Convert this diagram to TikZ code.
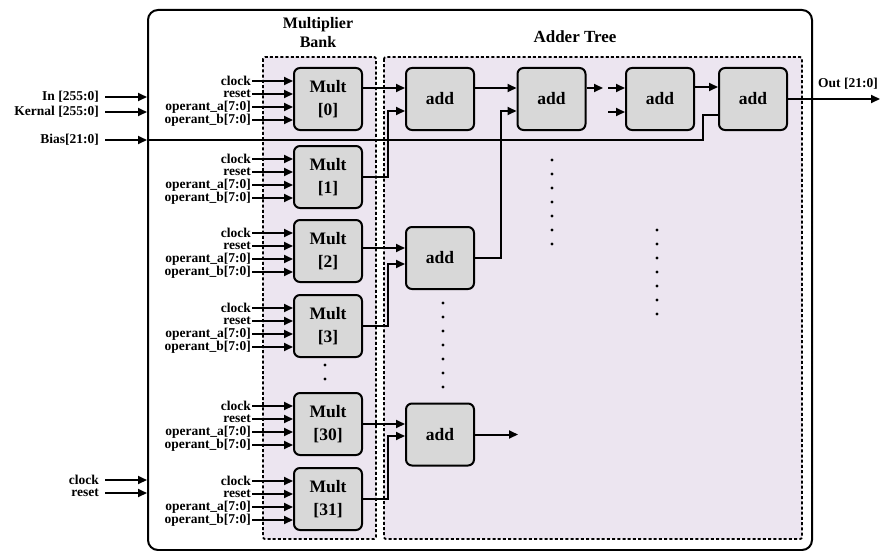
\documentclass[tikz,border=0pt]{standalone}
\usepackage{fontspec}
\setmainfont{Liberation Serif}
\usetikzlibrary{arrows.meta}

\definecolor{bankfill}{RGB}{236,229,240}
\definecolor{unitfill}{RGB}{216,216,216}

\tikzset{
  unit/.style={draw,line width=2pt,rounded corners=6pt,fill=unitfill,minimum width=68pt,minimum height=62pt,inner sep=0pt,align=center,font=\fontsize{17.5}{23}\selectfont\bfseries},
  sig/.style={line width=2pt,-{Triangle[length=9pt,width=8pt]}},
  wire/.style={line width=2pt},
  pin/.style={anchor=east,inner sep=1pt,font=\fontsize{13.5}{14}\selectfont\bfseries},
  region/.style={draw,line width=1.8pt,dash pattern=on 3pt off 2.2pt,fill=bankfill,rounded corners=2pt},
}

\begin{document}
\begin{tikzpicture}[x=1pt,y=1pt,yscale=-1]
\useasboundingbox (0,0) rectangle (883,551);

% dashed regions: multiplier bank and adder tree
\draw[region] (263,57) rectangle (376,539);
\draw[region] (384,57) rectangle (802,539);

% top module outline
\node[draw,line width=2pt,rounded corners=10pt,minimum width=664pt,minimum height=540pt,inner sep=0pt] (chip) at (480,280) {};

% titles
\node[font=\fontsize{16}{19}\selectfont\bfseries,align=center] (bankTitle) at (318,33) {Multiplier\\Bank};
\node[font=\fontsize{17}{20}\selectfont\bfseries] (treeTitle) at (575,37) {Adder Tree};

% multipliers with their four inputs
\foreach \n/\y in {0/99,1/177,2/251,3/326,30/424,31/499}{
  \node[unit] (mult\n) at (328,\y) {Mult\\{[\n]}};
  \foreach \lbl/\dy [count=\i] in {clock/-18,reset/-5,operant\_a[7:0]/8,operant\_b[7:0]/21}{
    \node[pin] (pin\n-\i) at (252,{\y+\dy}) {\lbl};
    \draw[sig] (pin\n-\i.east) -- (pin\n-\i.east -| mult\n.west);
  }
}

% adders
\node[unit] (addA0) at (440,99) {add};
\node[unit] (addA1) at (440,258) {add};
\node[unit] (addA15) at (440,434.5) {add};
\node[unit] (addB0) at (551.5,99) {add};
\node[unit] (addC0) at (660,99) {add};
\node[unit] (addD0) at (753,99) {add};

% first stage
\draw[sig] (mult0.east |- 0,88) -- (addA0.west |- 0,88);
\draw[sig] (mult1.east) -| (388,111) -- (addA0.west |- 0,111);
\draw[sig] (mult2.east |- 0,248) -- (addA1.west |- 0,248);
\draw[sig] (mult3.east) -| (388,264) -- (addA1.west |- 0,264);
\draw[sig] (mult30.east) -- (addA15.west |- mult30.east);
\draw[sig] (mult31.east) -| (388,436) -- (addA15.west |- 0,436);
\coordinate (nextA15) at (518,434.5);
\draw[sig] (addA15.east) -- (nextA15);

% later stages
\draw[sig] (addA0.east |- 0,88) -- (addB0.west |- 0,88);
\draw[sig] (addA1.east) -| (501,111) -- (addB0.west |- 0,111);
\coordinate (gapL) at (603,88);
\coordinate (gapR) at (608,88);
\draw[sig] (addB0.east |- gapL) -- (gapL);
\draw[sig] (gapR) -- (addC0.west |- gapR);
\draw[sig] (608,112) -- (addC0.west |- 0,112);
\draw[sig] (addC0.east |- 0,87) -- (addD0.west |- 0,87);

% top level ports
\node[pin] (inData) at (100,97) {In [255:0]};
\node[pin] (kernal) at (100,112) {Kernal [255:0]};
\node[pin] (bias) at (100,140) {Bias[21:0]};
\node[pin] (clk) at (100,480) {clock};
\node[pin] (rst) at (100,493) {reset};
\foreach \p in {inData,kernal,bias,clk,rst}
  \draw[sig] ([xshift=5pt]\p.east) -- (\p.east -| chip.west);

% bias goes to the last adder
\draw[wire] (chip.west |- bias.east) -- (703,140) |- (addD0.west |- 0,115);

% output
\coordinate (outEnd) at (880,99);
\draw[sig] (addD0.east) -- (outEnd);
\node[font=\fontsize{13.5}{14}\selectfont\bfseries] (outLbl) at (848,84) {Out [21:0]};

% omitted units
\foreach \k in {0,1}
  \fill (325,{365+14*\k}) circle (1.7pt);
\foreach \k in {0,...,6}{
  \fill (443,{303+14*\k}) circle (1.7pt);
  \fill (552,{160+14*\k}) circle (1.7pt);
  \fill (657,{230+14*\k}) circle (1.7pt);
}

\end{tikzpicture}
\end{document}
